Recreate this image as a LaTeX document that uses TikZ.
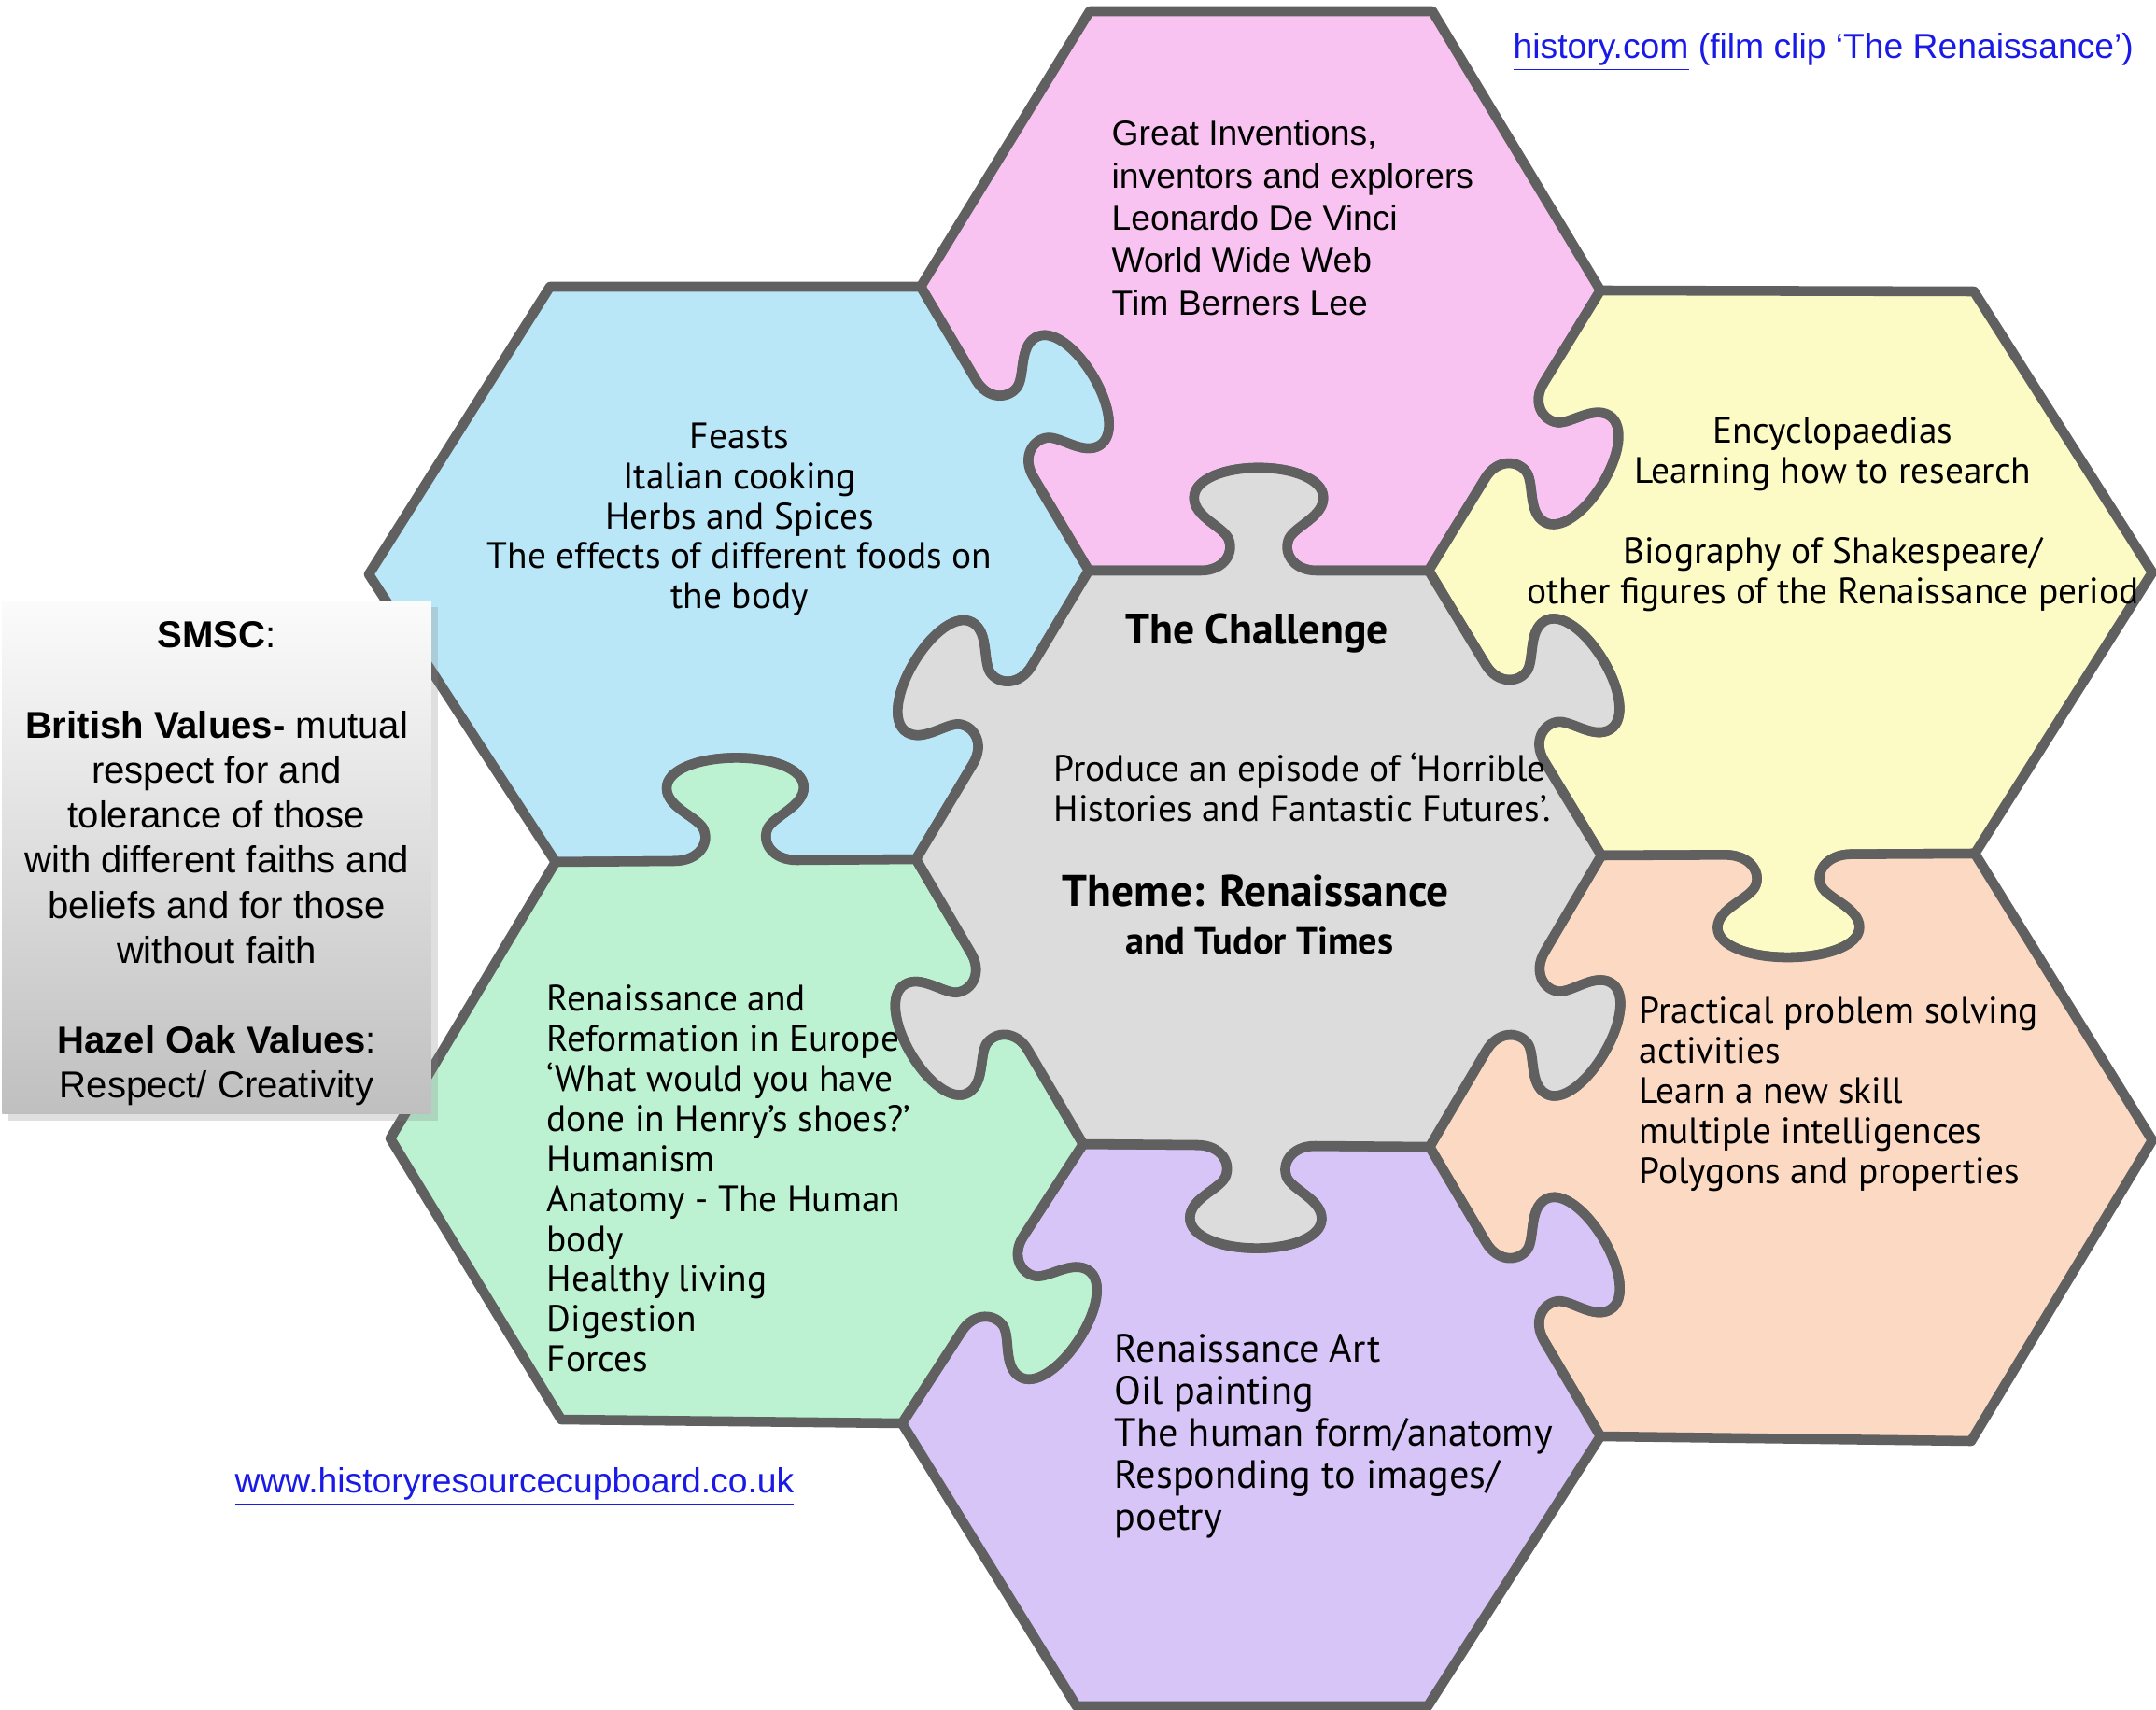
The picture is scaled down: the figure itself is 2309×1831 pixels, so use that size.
\documentclass[tikz,border=0pt]{standalone}
\usepackage{fontspec}
\setmainfont{PT Sans}
\newfontfamily\arialfont{Liberation Sans}
\usetikzlibrary{calc}
\usetikzlibrary{shadows}

\definecolor{edgegrey}{HTML}{606060}
\definecolor{pinkfill}{HTML}{F8C3F0}
\definecolor{bluefill}{HTML}{BAE7F8}
\definecolor{yellowfill}{HTML}{FCFAC5}
\definecolor{greyfill}{HTML}{DCDCDC}
\definecolor{peachfill}{HTML}{FCD9C2}
\definecolor{greenfill}{HTML}{BCF2D2}
\definecolor{purplefill}{HTML}{D8C5F7}
\definecolor{linkblue}{HTML}{1A1AE6}

\tikzset{
	tabto/.style n args={3}{insert path={
		-- ($(#1)!0.33!(#2)$)
		.. controls ($(#1)!0.40!(#2)$) and ($(#1)!0.43!(#2)!0.2cm!#3:(#2)$) .. ($(#1)!0.41!(#2)!0.35cm!#3:(#2)$)
		.. controls ($(#1)!0.39!(#2)!0.48cm!#3:(#2)$) and ($(#1)!0.31!(#2)!0.58cm!#3:(#2)$) .. ($(#1)!0.31!(#2)!0.78cm!#3:(#2)$)
		.. controls ($(#1)!0.31!(#2)!0.98cm!#3:(#2)$) and ($(#1)!0.40!(#2)!1.1cm!#3:(#2)$) .. ($(#1)!0.5!(#2)!1.1cm!#3:(#2)$)
		.. controls ($(#1)!0.60!(#2)!1.1cm!#3:(#2)$) and ($(#1)!0.69!(#2)!0.98cm!#3:(#2)$) .. ($(#1)!0.69!(#2)!0.78cm!#3:(#2)$)
		.. controls ($(#1)!0.69!(#2)!0.58cm!#3:(#2)$) and ($(#1)!0.61!(#2)!0.48cm!#3:(#2)$) .. ($(#1)!0.59!(#2)!0.35cm!#3:(#2)$)
		.. controls ($(#1)!0.57!(#2)!0.2cm!#3:(#2)$) and ($(#1)!0.60!(#2)$) .. ($(#1)!0.67!(#2)$)
		-- (#2)}},
	piece/.style={draw=edgegrey, line width=3pt, line join=round},
	topictext/.style={inner sep=0pt, font=\fontsize{11.2pt}{12.2pt}\selectfont},
	arialtext/.style={inner sep=0pt, font=\arialfont\fontsize{10.6pt}{12.9pt}\selectfont},
	linktext/.style={inner sep=0pt, text=linkblue, font=\arialfont\fontsize{10.6pt}{12.6pt}\selectfont},
}

\begin{document}
\begin{tikzpicture}[x=0.01cm, y=-0.01cm]
	\useasboundingbox (0,0) rectangle (2309,1831);

	% honeycomb corners
	\coordinate (p1) at (1167,12);   \coordinate (p2) at (1534,12);
	\coordinate (p3) at (1714,311);  \coordinate (p6) at (986,307);
	\coordinate (g1) at (1166,611);  \coordinate (g2) at (1530,611);
	\coordinate (g3) at (1715,916);  \coordinate (g4) at (1531,1228);
	\coordinate (g5) at (1160,1225); \coordinate (g6) at (981,920);
	\coordinate (b1) at (589,307);   \coordinate (b5) at (595,923);
	\coordinate (b6) at (395,615);
	\coordinate (y2) at (2114,312);  \coordinate (y3) at (2305,613);
	\coordinate (y4) at (2115,914);
	\coordinate (e3) at (2305,1221); \coordinate (e4) at (2111,1543);
	\coordinate (e5) at (1714,1538);
	\coordinate (u4) at (1529,1827); \coordinate (u5) at (1153,1827);
	\coordinate (u6) at (966,1524);
	\coordinate (n5) at (601,1520);  \coordinate (n6) at (418,1219);

	% puzzle pieces
	\draw[piece, fill=pinkfill] (p1) -- (p2) -- (p3) [tabto={p3}{g2}{90}] [tabto={g2}{g1}{-90}] [tabto={g1}{p6}{-90}] -- cycle;
	\draw[piece, fill=bluefill] (b1) -- (p6) [tabto={p6}{g1}{90}] [tabto={g1}{g6}{-90}] [tabto={g6}{b5}{-90}] -- (b6) -- cycle;
	\draw[piece, fill=yellowfill] (p3) -- (y2) -- (y3) -- (y4) [tabto={y4}{g3}{90}] [tabto={g3}{g2}{-90}] [tabto={g2}{p3}{-90}] -- cycle;
	\draw[piece, fill=peachfill] (g3) [tabto={g3}{y4}{-90}] -- (e3) -- (e4) -- (e5) [tabto={e5}{g4}{-90}] [tabto={g4}{g3}{-90}] -- cycle;
	\draw[piece, fill=purplefill] (g5) [tabto={g5}{g4}{-90}] [tabto={g4}{e5}{90}] -- (u4) -- (u5) -- (u6) [tabto={u6}{g5}{-90}] -- cycle;
	\draw[piece, fill=greenfill] (b5) [tabto={b5}{g6}{90}] [tabto={g6}{g5}{-90}] [tabto={g5}{u6}{90}] -- (n5) -- (n6) -- cycle;
	\draw[piece, fill=greyfill] (g1) [tabto={g1}{g2}{90}] [tabto={g2}{g3}{90}] [tabto={g3}{g4}{90}] [tabto={g4}{g5}{90}] [tabto={g5}{g6}{90}] [tabto={g6}{g1}{90}] -- cycle;

	% texts in the pieces
	\node[arialtext, anchor=north west, align=left] (inventions) at (1190,128) {Great Inventions,\\ inventors and explorers\\ Leonardo De Vinci\\ World Wide Web\\ Tim Berners Lee};
	\node[topictext, anchor=north, align=center] (feasts) at (792,452) {Feasts\\ Italian cooking\\ Herbs and Spices\\ The effects of different foods on\\ the body};
	\node[topictext, anchor=north, align=center] (research) at (1963,446) {Encyclopaedias\\ Learning how to research\\[12.2pt] Biography of Shakespeare/\\ other figures of the Renaissance period};
	\node[topictext, font=\bfseries\fontsize{13pt}{15pt}\selectfont] (challenge) at (1346,678) {The Challenge};
	\node[topictext, anchor=north west, align=left] (brief) at (1128,805) {Produce an episode of ‘Horrible\\ Histories and Fantastic Futures’.};
	\node[topictext, font=\bfseries\fontsize{13.5pt}{15pt}\selectfont] (theme) at (1345,954) {Theme: Renaissance};
	\node[topictext, font=\bfseries\fontsize{11.5pt}{14pt}\selectfont] (tudor) at (1349,1007) {and Tudor Times};
	\node[topictext, anchor=north west, align=left] (reformation) at (585,1054) {Renaissance and\\ Reformation in Europe\\ ‘What would you have\\ done in Henry’s shoes?’\\ Humanism\\ Anatomy - The Human\\ body\\ Healthy living\\ Digestion\\ Forces};
	\node[topictext, anchor=north west, align=left] (skills) at (1755,1067) {Practical problem solving\\ activities\\ Learn a new skill\\ multiple intelligences\\ Polygons and properties};
	\node[topictext, anchor=north west, align=left, font=\fontsize{12pt}{12.8pt}\selectfont] (art) at (1193,1428) {Renaissance Art\\ Oil painting\\ The human form/anatomy\\ Responding to images/\\ poetry};

	% values box
	\node[minimum width=4.59cm, minimum height=5.49cm, top color=white!97!gray, bottom color=gray!50, drop shadow={opacity=0.25, shadow xshift=2pt, shadow yshift=-2pt}] (smsc) at (232,918) {};
	\node[align=center, inner sep=0pt, font=\arialfont\fontsize{11.4pt}{13.7pt}\selectfont] (smsctext) at (232,925)
		{\textbf{SMSC}:\\[13.7pt] \textbf{British Values-} mutual\\ respect for and\\ tolerance of those\\ with different faiths and\\ beliefs and for those\\ without faith\\[13.7pt] \textbf{Hazel Oak Values}:\\ Respect/ Creativity};

	% links
	\node[linktext, anchor=west] (filmclip) at (1620,56) {\underline{history.com} (film clip ‘The Renaissance’)};
	\node[linktext] (cupboard) at (551,1592) {\underline{www.historyresourcecupboard.co.uk}};
\end{tikzpicture}
\end{document}
